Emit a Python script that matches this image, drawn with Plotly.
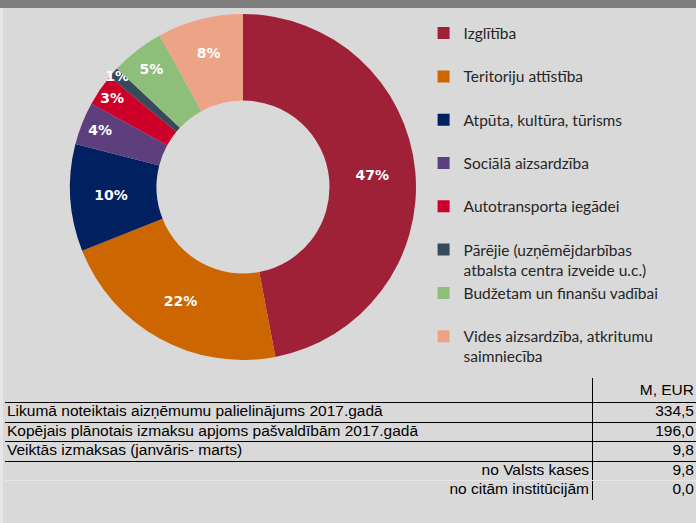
import plotly.graph_objects as go

W, H = 696, 523

categories = [
    "Izglītība",
    "Teritoriju attīstība",
    "Atpūta, kultūra, tūrisms",
    "Sociālā aizsardzība",
    "Autotransporta iegādei",
    "Pārējie (uzņēmējdarbības<br>atbalsta centra izveide u.c.)",
    "Budžetam un finanšu vadībai",
    "Vides aizsardzība, atkritumu<br>saimniecība",
]
shares = [47, 22, 10, 4, 3, 1, 5, 8]
colors = ["#9e2137", "#cc6600", "#00205f", "#5c3f7c", "#cc0029",
          "#374a5a", "#8ebf7a", "#eda386"]

table_labels = [
    "Likumā noteiktais aizņēmumu palielinājums 2017.gadā",
    "Kopējais plānotais izmaksu apjoms pašvaldībām 2017.gadā",
    "Veiktās izmaksas (janvāris- marts)",
    "no Valsts kases",
    "no citām institūcijām",
]
table_values = ["334,5", "196,0", "9,8", "9,8", "0,0"]
unit_label = "M, EUR"

BG = "#d9d9d9"
LEG_FS = 15.5


def legend_label(lbl):
    # every entry takes two lines, as in the original legend
    return lbl if "<br>" in lbl else lbl + "<br>\u00a0"


fig = go.Figure()

# ---------------- donut ----------------
cx, cy, r = 243, 187, 173
fig.add_trace(go.Pie(
    labels=[legend_label(c) for c in categories],
    values=shares,
    sort=False,
    direction="clockwise",
    rotation=0,
    hole=0.5,
    marker=dict(colors=colors, line=dict(width=0)),
    texttemplate="%{percent:.0%}",
    textposition="inside",
    insidetextorientation="horizontal",
    textfont=dict(family="DejaVu Sans", size=14, color="white", weight="bold"),
    domain=dict(x=[(cx - r) / W, (cx + r) / W], y=[1 - (cy + r) / H, 1 - (cy - r) / H]),
    hoverinfo="label+percent",
    showlegend=True,
))

# ---------------- table (text on its own axes) ----------------
n_rows = len(table_labels)
row_idx = list(range(1, n_rows + 1))
n_left = 3  # first rows are left aligned, the rest right aligned

tfont = dict(family="Liberation Sans", size=15.5, color="black")
x_left, x_sep, x_right = 7, 592, 694

fig.add_trace(go.Scatter(
    x=[x_right], y=[-0.1], text=[unit_label], mode="text",
    textposition="middle left", textfont=tfont,
    xaxis="x2", yaxis="y2", showlegend=False, hoverinfo="skip",
))
fig.add_trace(go.Scatter(
    x=[x_left] * n_left, y=row_idx[:n_left], text=table_labels[:n_left], mode="text",
    textposition="middle right", textfont=tfont,
    xaxis="x2", yaxis="y2", showlegend=False, hoverinfo="skip",
))
fig.add_trace(go.Scatter(
    x=[x_sep - 3] * (n_rows - n_left), y=row_idx[n_left:], text=table_labels[n_left:],
    mode="text", textposition="middle left", textfont=tfont,
    xaxis="x2", yaxis="y3", showlegend=False, hoverinfo="skip",
))
fig.add_trace(go.Scatter(
    x=[x_right] * n_rows, y=row_idx, text=table_values, mode="text",
    textposition="middle left", textfont=tfont,
    xaxis="x2", yaxis="y2", showlegend=False, hoverinfo="skip",
))

t_top, t_bot = 378, 500
row_h = 19.5
extra = (t_bot - t_top) / row_h - (n_rows + 1)  # header row is a bit taller
yrange = [n_rows + 0.5, -0.5 - extra]
ydom = [1 - t_bot / H, 1 - t_top / H]

axis_common = dict(showticklabels=False, ticks="", zeroline=False, showline=False,
                   fixedrange=True)

fig.update_layout(
    xaxis=dict(visible=False),
    yaxis=dict(visible=False),
    xaxis2=dict(domain=[5 / W, 1], range=[5, W], anchor="y2",
                tickmode="array", tickvals=[x_sep], showgrid=True,
                gridcolor="black", gridwidth=1, **axis_common),
    yaxis2=dict(domain=ydom, range=yrange, anchor="x2",
                tickmode="array", tickvals=[i + 0.5 for i in range(n_left + 1)],
                showgrid=True, gridcolor="black", gridwidth=1, **axis_common),
    yaxis3=dict(domain=ydom, range=yrange, anchor="x2", overlaying="y2",
                tickmode="array", tickvals=[i + 0.5 for i in range(n_left + 1, n_rows + 1)],
                showgrid=True, gridcolor="#e6e6e6", gridwidth=1, **axis_common),
)

fig.update_layout(
    width=W, height=H,
    margin=dict(l=0, r=0, t=0, b=0),
    paper_bgcolor=BG,
    plot_bgcolor=BG,
    uniformtext=dict(minsize=13, mode="show"),
    legend=dict(
        x=0.6086, y=1 - 16.5 / H, xanchor="left", yanchor="top",
        valign="top",
        font=dict(family="Lato", size=LEG_FS, color="#262626"),
        bgcolor="rgba(0,0,0,0)",
        traceorder="normal",
    ),
    shapes=[
        dict(type="rect", xref="paper", yref="paper", x0=0, x1=1, y0=1 - 8 / H, y1=1,
             fillcolor="#7f7f7f", line=dict(width=0), layer="above"),
        dict(type="rect", xref="paper", yref="paper", x0=0, x1=3 / W, y0=0, y1=1 - 8 / H,
             fillcolor="#e6e6e6", line=dict(width=0), layer="below"),
    ],
)

fig.write_html("out.html", config={"displayModeBar": False},
               post_script="document.body.style.margin='0';")
